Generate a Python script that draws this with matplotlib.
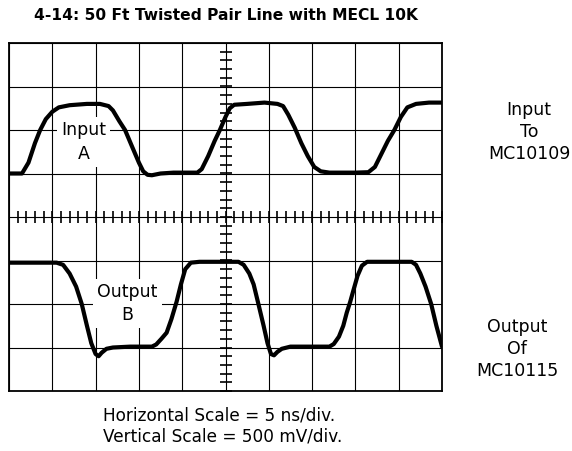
#!/usr/bin/env python3
"""Scope photo 4-14: 50 ft twisted pair line with MECL 10K."""

import numpy as np
import matplotlib.pyplot as plt

# trace samples, in divisions (x: 0..10, y: -4..4)
input_x = [0, 0.3, 0.45, 0.6, 0.72, 0.85, 1.0, 1.15, 1.4, 1.8, 2.1, 2.3, 2.4,
           2.55, 2.68, 2.85, 3.0, 3.1, 3.2, 3.3, 3.5, 3.8, 4.35, 4.45, 4.6,
           4.75, 4.87, 5.0, 5.1, 5.2, 5.5, 5.9, 6.2, 6.33, 6.45, 6.6, 6.75,
           6.9, 7.05, 7.2, 7.4, 8.0, 8.3, 8.45, 8.6, 8.75, 8.9, 9.05, 9.2,
           9.4, 9.7, 10.0]
input_y = [1.0, 1.0, 1.25, 1.7, 2.0, 2.25, 2.42, 2.52, 2.57, 2.6, 2.6, 2.55,
           2.45, 2.2, 2.0, 1.6, 1.25, 1.05, 0.97, 0.96, 1.0, 1.02, 1.02, 1.1,
           1.4, 1.75, 2.0, 2.3, 2.5, 2.58, 2.6, 2.63, 2.6, 2.55, 2.35, 2.05,
           1.7, 1.4, 1.15, 1.05, 1.02, 1.02, 1.03, 1.15, 1.45, 1.75, 2.0, 2.3,
           2.52, 2.6, 2.63, 2.63]

output_x = [0, 1.1, 1.25, 1.4, 1.55, 1.68, 1.8, 1.9, 2.0, 2.07, 2.14, 2.25,
            2.4, 2.8, 3.3, 3.4, 3.52, 3.64, 3.75, 3.87, 3.97, 4.07, 4.2, 4.4,
            5.3, 5.42, 5.55, 5.65, 5.76, 5.88, 5.97, 6.05, 6.12, 6.2, 6.3,
            6.5, 7.4, 7.5, 7.62, 7.72, 7.8, 7.88, 7.95, 8.05, 8.15, 8.27,
            9.3, 9.4, 9.5, 9.62, 9.75, 9.87, 10.0]
output_y = [-1.05, -1.05, -1.1, -1.3, -1.6, -2.0, -2.5, -2.9, -3.15, -3.2,
            -3.12, -3.03, -3.0, -2.98, -2.98, -2.93, -2.8, -2.66, -2.35, -1.95,
            -1.55, -1.2, -1.05, -1.03, -1.03, -1.1, -1.3, -1.55, -2.0, -2.5,
            -2.9, -3.15, -3.18, -3.1, -3.03, -2.98, -2.98, -2.92, -2.75, -2.5,
            -2.2, -1.95, -1.7, -1.35, -1.12, -1.03, -1.03, -1.1, -1.3, -1.6,
            -2.0, -2.5, -2.98]

TITLE = "4-14: 50 Ft Twisted Pair Line with MECL 10K"
RIGHT_TOP = "Input\nTo\nMC10109"
RIGHT_BOTTOM = "Output\nOf\nMC10115"
SCALE_TEXT = "Horizontal Scale = 5 ns/div.\nVertical Scale = 500 mV/div."

plt.rcParams["font.family"] = ["DejaVu Sans"]

fig = plt.figure(figsize=(5.72, 4.51), dpi=100)
ax = fig.add_axes([9 / 572, 1 - 391 / 451, 433 / 572, 348 / 451])
ax.set_xlim(0, 10)
ax.set_ylim(-4, 4)

# graticule
ax.set_xticks(np.arange(0, 11))
ax.set_yticks(np.arange(-4, 5))
ax.grid(True, color="black", lw=0.8, zorder=1)
ax.tick_params(length=0, labelbottom=False, labelleft=False)
for s in ax.spines.values():
    s.set_linewidth(1.3)

# minor marks on the centre axes
mx = np.arange(0, 10.01, 0.2)
my = np.arange(-4, 4.01, 0.2)
ax.plot(mx, np.zeros_like(mx), ls="none", marker="|", ms=8, mew=1.2,
        color="black", zorder=2)
ax.plot(np.full_like(my, 5.0), my, ls="none", marker="_", ms=8, mew=1.2,
        color="black", zorder=2)

# traces
ax.plot(input_x, input_y, color="black", lw=3, solid_capstyle="round",
        solid_joinstyle="round", zorder=4)
ax.plot(output_x, output_y, color="black", lw=3, solid_capstyle="round",
        solid_joinstyle="round", zorder=4)

box = dict(facecolor="white", edgecolor="none", pad=3)
ax.text(1.72, 1.72, "Input\nA", ha="center", va="center", fontsize=12.5,
        linespacing=1.4, bbox=box, zorder=3)
ax.text(2.74, -1.99, "Output\nB", ha="center", va="center", fontsize=12.5,
        linespacing=1.35, bbox=box, zorder=3)

fig.text(226 / 572, 1 - 15 / 451, TITLE, ha="center", va="center",
         fontsize=11.2, fontweight="bold")
fig.text(529 / 572, 1 - 132 / 451, RIGHT_TOP, ha="center", va="center",
         fontsize=12.5, linespacing=1.28)
fig.text(517 / 572, 1 - 349 / 451, RIGHT_BOTTOM, ha="center", va="center",
         fontsize=12.5, linespacing=1.25)
fig.text(103 / 572, 1 - 426 / 451, SCALE_TEXT, ha="left", va="center",
         fontsize=12.2, linespacing=1.25)

fig.savefig("out.png", dpi=100)
